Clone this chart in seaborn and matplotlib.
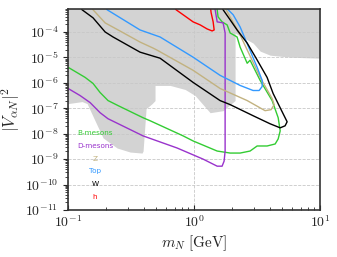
import numpy as np
import pandas as pd
import matplotlib
matplotlib.use("Agg")
import matplotlib.pyplot as plt
from matplotlib.ticker import LogLocator, FuncFormatter, NullFormatter
import seaborn as sns

# values, stored as log10(m_N / GeV) and log10(|V|^2)
excl_logm = [-1.000, -0.889, -0.849, -0.786, -0.722, -0.611, -0.508, -0.413, -0.405,
             -0.381, -0.333, -0.310, -0.310, -0.190, -0.071, 0.008, 0.127, 0.230,
             0.286, 0.325, 0.325, 0.468, 0.524, 0.603, 0.762, 1.000]
excl_logv = [-6.817, -6.738, -6.817, -7.492, -8.167, -8.563, -8.722, -8.762, -8.683,
             -7.016, -6.817, -6.698, -6.103, -6.103, -6.262, -6.500, -7.175, -7.095,
             -6.857, -6.698, -4.040, -4.437, -4.754, -4.913, -4.992, -5.032]

bmes_logm = [-1.05, -1.000, -0.865, -0.802, -0.746, -0.683, -0.603, -0.405, -0.349, -0.087,
             -0.008, 0.183, 0.286, 0.365, 0.444, 0.500, 0.579, 0.643, 0.667, 0.683,
             0.667, 0.619, 0.524, 0.444, 0.421, 0.365, 0.341, 0.286, 0.262, 0.222,
             0.190, 0.183, 0.175]
bmes_logv = [-5.20, -5.389, -5.786, -6.024, -6.381, -6.698, -6.897, -7.373, -7.492, -8.087,
             -8.286, -8.683, -8.762, -8.762, -8.683, -8.484, -8.484, -8.405, -8.206, -7.889,
             -7.373, -6.698, -5.905, -5.111, -5.230, -4.595, -4.198, -4.040, -3.722, -3.603,
             -3.405, -3.127, -2.929]

dmes_logm = [-1.05, -1.000, -0.905, -0.825, -0.746, -0.683, -0.405, -0.135, 0.071, 0.183,
             0.222, 0.238, 0.246, 0.246, 0.230, 0.183, 0.167, 0.159]
dmes_logv = [-6.05, -6.222, -6.500, -6.778, -7.175, -7.413, -8.087, -8.563, -9.000, -9.278,
             -9.278, -9.079, -8.683, -4.040, -3.643, -3.603, -3.127, -2.929]

z_logm = [-0.817, -0.802, -0.706, -0.603, -0.429, -0.325, -0.294, -0.008, 0.206, 0.421,
          0.563, 0.611, 0.635, 0.619, 0.524, 0.460, 0.365, 0.254, 0.238]
z_logv = [-2.929, -3.127, -3.643, -3.921, -4.397, -4.635, -4.714, -5.508, -6.222, -6.698,
          -7.095, -7.056, -6.857, -6.619, -5.786, -5.111, -4.119, -3.127, -2.929]

top_logm = [-0.714, -0.690, -0.429, -0.270, -0.008, 0.206, 0.365, 0.468, 0.516, 0.540,
            0.540, 0.500, 0.365, 0.310, 0.254, 0.238]
top_logv = [-2.929, -3.127, -3.921, -4.198, -4.992, -5.706, -6.103, -6.302, -6.302, -6.143,
            -5.905, -5.389, -3.802, -3.325, -3.048, -2.929]

w_logm = [-0.913, -0.889, -0.802, -0.706, -0.643, -0.429, -0.270, -0.008, 0.206, 0.286,
          0.468, 0.603, 0.683, 0.722, 0.738, 0.706, 0.627, 0.579, 0.492, 0.421,
          0.341, 0.286, 0.230, 0.206]
w_logv = [-2.929, -3.127, -3.444, -4.000, -4.198, -4.794, -5.032, -5.984, -6.698, -6.857,
          -7.294, -7.611, -7.770, -7.690, -7.532, -7.214, -6.421, -5.786, -5.032, -4.437,
          -3.921, -3.524, -3.127, -2.929]

h_logm = [-0.167, -0.143, -0.008, 0.048, 0.103, 0.143, 0.159, 0.151, 0.135, 0.127]
h_logv = [-2.929, -3.127, -3.603, -3.722, -3.881, -3.960, -3.921, -3.603, -3.246, -2.929]

labels = ["B-mesons", "D-mesons", "Z", "Top", "W", "h"]
colors = ["#33cc33", "#9933cc", "#c2b280", "#3399ff", "black", "red"]
curves = [(bmes_logm, bmes_logv), (dmes_logm, dmes_logv), (z_logm, z_logv),
          (top_logm, top_logv), (w_logm, w_logv), (h_logm, h_logv)]

frames = []
for lab, (lm, lv) in zip(labels, curves):
    frames.append(pd.DataFrame({"m": 10.0 ** np.array(lm), "v": 10.0 ** np.array(lv),
                                "channel": lab, "order": np.arange(len(lm))}))
df = pd.concat(frames, ignore_index=True)

sns.set_style("ticks")
plt.rcParams["mathtext.fontset"] = "cm"
plt.rcParams["font.family"] = ["DejaVu Sans"]

fig = plt.figure(figsize=(3.37, 2.57), dpi=100)
ax = fig.add_axes([0.202, 0.183, 0.748, 0.782])

# excluded region
ax.fill_between(10.0 ** np.array(excl_logm), 10.0 ** np.array(excl_logv), 1.0,
                color="#d3d3d3", lw=0, zorder=0.2)

sns.lineplot(data=df, x="m", y="v", hue="channel", palette=dict(zip(labels, colors)),
             units="channel", estimator=None, sort=False, lw=1.0, legend=False, ax=ax)

ax.set_xscale("log")
ax.set_yscale("log")
ax.set_xlim(0.1, 10)
ax.set_ylim(1e-11, 8e-4)

ax.set_axisbelow(True)
ax.grid(True, which="major", ls="--", color="#c8c8c8", lw=0.6)

ax.yaxis.set_major_locator(LogLocator(base=10, numticks=20))
ax.yaxis.set_minor_locator(LogLocator(base=10, subs=np.arange(2, 10), numticks=20))
ax.yaxis.set_minor_formatter(NullFormatter())
fmt = FuncFormatter(lambda v, p: r"$10^{%d}$" % round(np.log10(v)))
ax.xaxis.set_major_formatter(fmt)
ax.yaxis.set_major_formatter(fmt)
ax.tick_params(axis="both", which="major", labelsize=10, length=3.5, width=0.8)
ax.tick_params(axis="both", which="minor", length=2, width=0.6)
ax.tick_params(axis="x", which="both", direction="in")

for sp in ax.spines.values():
    sp.set_color("#333333")
    sp.set_linewidth(1.2)

ax.set_xlabel(r"$m_N\ [\mathrm{GeV}]$", fontsize=11, labelpad=2)
ax.set_ylabel(r"$|V_{\alpha N}|^2$", fontsize=12, labelpad=2)

for i, (lab, col) in enumerate(zip(labels, colors)):
    ax.text(0.107, 0.383 - i * 0.0637, lab, color=col, fontsize=5.2,
            ha="center", va="center", transform=ax.transAxes)

fig.savefig("out.png", dpi=100)
